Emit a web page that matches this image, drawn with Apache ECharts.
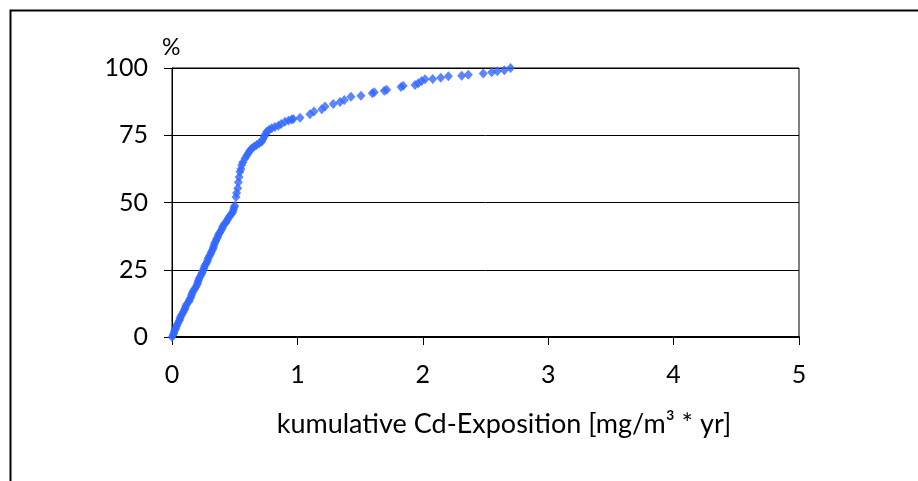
<!DOCTYPE html>
<html>
<head>
<meta charset="utf-8">
<script src="https://cdn.jsdelivr.net/npm/echarts@6/dist/echarts.min.js"></script>
<style>
  html, body { margin: 0; padding: 0; background: #fff; }
  #chart { width: 918px; height: 481px; }
</style>
</head>
<body>
<div id="chart"></div>
<script>
// Cumulative exposure (mg/m³ * yr) and cumulative share of persons (%)
const exposure = [
  0.00, 0.01, 0.015, 0.02, 0.03, 0.035, 0.04, 0.05, 0.06, 0.065,
  0.07, 0.08, 0.09, 0.10, 0.105, 0.11, 0.12, 0.135, 0.14, 0.15,
  0.155, 0.16, 0.17, 0.18, 0.19, 0.20, 0.205, 0.21, 0.215, 0.225,
  0.235, 0.24, 0.25, 0.255, 0.26, 0.27, 0.28, 0.285, 0.29, 0.30,
  0.31, 0.315, 0.325, 0.33, 0.335, 0.34, 0.35, 0.355, 0.365, 0.37,
  0.38, 0.39, 0.40, 0.405, 0.415, 0.43, 0.44, 0.45, 0.46, 0.475,
  0.485, 0.49, 0.495, 0.50, 0.51, 0.515, 0.524, 0.529, 0.535, 0.542,
  0.55, 0.556, 0.565, 0.582, 0.595, 0.608, 0.62, 0.636, 0.655, 0.675,
  0.695, 0.715, 0.725, 0.736, 0.745, 0.755, 0.775, 0.795, 0.82, 0.848,
  0.87, 0.901, 0.93, 0.955, 0.967, 1.021, 1.10, 1.132, 1.194, 1.22,
  1.286, 1.34, 1.374, 1.427, 1.507, 1.597, 1.613, 1.693, 1.712, 1.826,
  1.844, 1.938, 1.964, 1.991, 2.018, 2.079, 2.143, 2.204, 2.31, 2.363,
  2.482, 2.549, 2.594, 2.65, 2.70
];
const percent = [
  0.0, 0.8, 1.5, 2.3, 3.1, 3.9, 4.6, 5.4, 6.2, 7.0,
  7.7, 8.5, 9.3, 10.1, 10.8, 11.6, 12.4, 13.2, 13.9, 14.7,
  15.5, 16.3, 17.1, 17.8, 18.6, 19.4, 20.2, 20.9, 21.7, 22.5,
  23.3, 24.0, 24.8, 25.6, 26.4, 27.1, 27.9, 28.7, 29.5, 30.2,
  31.0, 31.8, 32.6, 33.3, 34.1, 34.9, 35.7, 36.4, 37.2, 38.0,
  38.8, 39.5, 40.3, 41.1, 41.9, 42.6, 43.4, 44.2, 45.0, 45.7,
  46.5, 47.3, 48.1, 48.8, 52.0, 53.5, 55.3, 57.5, 59.5, 61.4,
  62.5, 63.9, 65.0, 66.4, 67.4, 68.3, 69.2, 70.1, 70.8, 71.4,
  72.0, 72.6, 73.5, 74.5, 75.4, 76.3, 77.0, 77.6, 78.1, 78.5,
  79.2, 80.0, 80.5, 80.9, 81.0, 81.5, 82.8, 83.8, 84.7, 85.7,
  86.6, 87.4, 88.1, 89.3, 89.7, 90.6, 91.0, 91.5, 91.9, 92.9,
  93.4, 93.7, 94.3, 95.2, 95.8, 95.9, 96.4, 96.9, 97.1, 97.5,
  98.0, 98.4, 98.8, 99.2, 100.0
];
const xTicks = [0, 1, 2, 3, 4, 5];
const yTicks = [0, 25, 50, 75, 100];
const xTitle = 'kumulative Cd-Exposition [mg/m³ * yr]';
const yUnit = '%';

const points = exposure.map((x, i) => [x, percent[i]]);
const FONT = 'Lato';

const chart = echarts.init(document.getElementById('chart'), null, { renderer: 'canvas' });
chart.setOption({
  animation: false,
  backgroundColor: '#ffffff',
  grid: {
    left: 172, right: 119, top: 68, bottom: 144,
    show: true, borderColor: '#000', borderWidth: 1, backgroundColor: 'transparent'
  },
  xAxis: {
    type: 'value',
    min: xTicks[0], max: xTicks[xTicks.length - 1], interval: 1,
    axisLine: { show: true, lineStyle: { color: '#000', width: 2 } },
    axisTick: { show: true, inside: false, length: 8, lineStyle: { color: '#000' } },
    axisLabel: { color: '#000', fontSize: 25, fontFamily: FONT, margin: 25 },
    splitLine: { show: false }
  },
  yAxis: {
    type: 'value',
    min: yTicks[0], max: yTicks[yTicks.length - 1], interval: 25,
    axisLine: { show: true, lineStyle: { color: '#000', width: 1 } },
    axisTick: { show: true, inside: false, length: 8, lineStyle: { color: '#000' } },
    axisLabel: { color: '#000', fontSize: 25, fontFamily: FONT, margin: 24 },
    splitLine: { show: true, lineStyle: { color: '#000', width: 1 } }
  },
  series: [{
    type: 'scatter',
    data: points,
    symbol: 'diamond',
    symbolSize: [9, 10],
    itemStyle: { color: '#3366ff' }
  }],
  graphic: [
    {
      type: 'rect', left: 8, top: 8, silent: true,
      shape: { x: 0, y: 0, width: 1000, height: 1000 },
      style: { fill: 'none', stroke: '#000', lineWidth: 2 }
    },
    {
      type: 'text', left: 162, top: 36,
      style: { text: yUnit, fontSize: 23, fontFamily: FONT, fill: '#000' }
    },
    {
      type: 'text', x: 504, y: 424,
      style: { text: xTitle, fontSize: 27, fontFamily: FONT, fill: '#000', align: 'center', verticalAlign: 'middle' }
    }
  ]
});
</script>
</body>
</html>
